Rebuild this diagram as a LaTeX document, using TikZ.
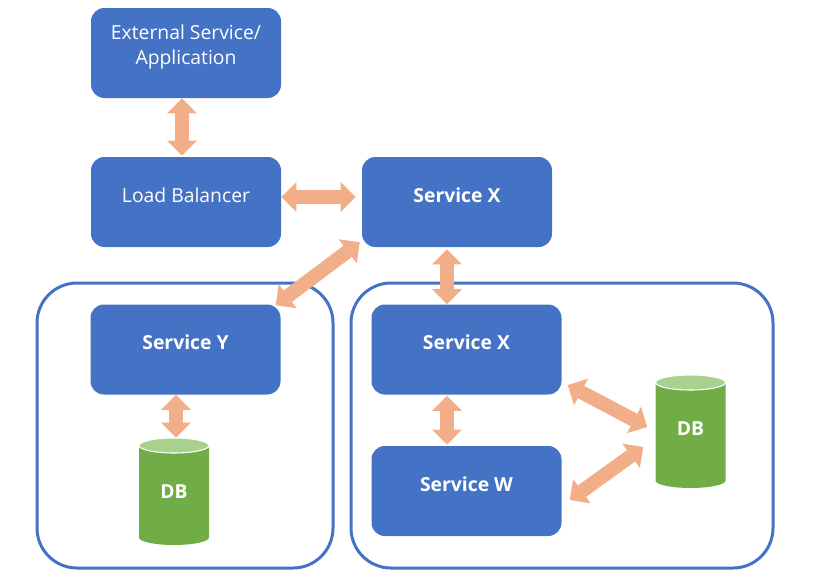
\documentclass[tikz,border=0pt]{standalone}
\usepackage{fontspec}
\setmainfont{Open Sans}
\usetikzlibrary{arrows.meta,calc}
\definecolor{bx}{HTML}{4472C4}
\definecolor{arr}{HTML}{F1AE89}
\definecolor{dbbody}{HTML}{70AD47}
\definecolor{dbtop}{HTML}{A9D18E}
\tikzset{
  box/.style={rectangle, rounded corners=10pt, fill=bx, text=white, minimum width=142.5pt,
    inner sep=0pt, text height=33.75pt, text depth=33.75pt, font=\fontsize{14.5}{18.75}\selectfont},
  bbox/.style={box, font=\fontsize{14.5}{18.75}\selectfont\bfseries},
  lbl/.style={text=white, inner sep=0pt, align=center, font=\fontsize{14.5}{18.75}\selectfont},
  cont/.style={rectangle, draw=bx, line width=2.25pt, rounded corners=30pt, inner sep=0pt},
  dbn/.style={rectangle, inner sep=0pt, minimum width=52.5pt, text=white, font=\fontsize{14.5}{18.75}\selectfont\bfseries},
  dbl/.style={draw=arr, line width=10.5pt,
    {Triangle[width=22.5pt,length=11.25pt,line width=0pt]}-{Triangle[width=22.5pt,length=11.25pt,line width=0pt]}},
}
\begin{document}
\begin{tikzpicture}[x=0.75pt,y=0.75pt]
\useasboundingbox (0,0) rectangle (839,-582);
% containers
\node[cont, minimum width=222pt, minimum height=213.75pt] (left) at (185,-425.5) {};
\node[cont, minimum width=316.5pt, minimum height=213.75pt] (right) at (562,-425.5) {};
% boxes
\node[box, text height=0pt, text depth=67.5pt] (ext) at (186,-53) {};
\node[lbl] (extlbl) at (186,-46.5) {External Service/\\Application};
\node[box] (lb) at (186,-202) {Load Balancer};
\node[bbox] (sx) at (457,-202) {Service X};
\node[bbox] (sy) at (185.5,-349.5) {Service Y};
\node[bbox] (sx2) at (466.5,-349.5) {Service X};
\node[bbox] (sw) at (466.5,-491) {Service W};
% cylinders
\foreach \cx/\ct/\cb in {174/438/545, 690.5/375/488}{
  \fill[dbbody] (\cx-35,-\ct-7.5) -- (\cx-35,-\cb+7.5)
    arc[start angle=180,end angle=360,x radius=35,y radius=7.5]
    -- (\cx+35,-\ct-7.5)
    arc[start angle=0,end angle=180,x radius=35,y radius=7.5] -- cycle;
  \filldraw[fill=dbtop, draw=white, line width=0.8pt] (\cx,-\ct-7.5) ellipse[x radius=35,y radius=7.5];
}
\node[dbn, minimum height=80.25pt] (db1) at (174,-491.5) {DB};
\node[dbn, minimum height=84.75pt] (db2) at (690.5,-429) {DB};
% arrows
\draw[dbl] ($(ext.south)+(-4,0)$) -- ($(lb.north)+(-4,1)$);
\draw[dbl] ($(lb.east)+(0,5)$) -- ($(sx.west)+(-6,5)$);
\draw[dbl] ($(sx.south west)+(-2,5)$) -- ($(sy.north east)+(-5,-1)$);
\draw[dbl] ($(sx.south)+(-10,-2)$) -- ($(sx2.north)+(-19.5,0)$);
\draw[dbl] ($(sx2.south)+(-19.5,-1)$) -- ($(sw.north)+(-19.5,1)$);
\draw[dbl] ($(sy.south)+(-9.5,0)$) -- ($(db1.north)+(2,0)$);
\draw[dbl] ($(sx2.east)+(6,-35.5)$) -- ($(db2.west)+(-8,2)$);
\draw[dbl] ($(db2.west)+(-12,-18)$) -- ($(sw.east)+(8,-9)$);
\end{tikzpicture}
\end{document}
